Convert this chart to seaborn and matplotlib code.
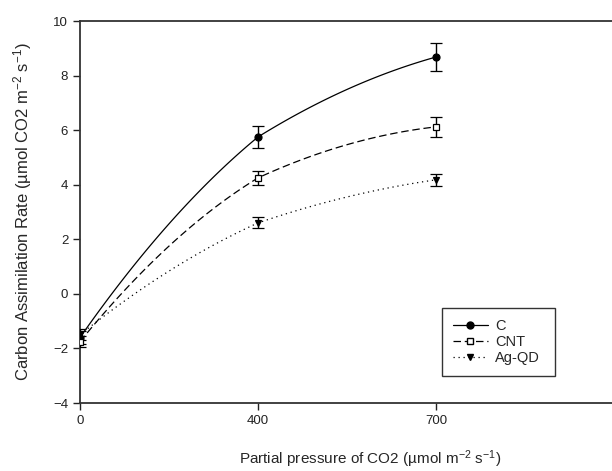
import numpy as np
import matplotlib
matplotlib.use("Agg")
import matplotlib.pyplot as plt
import seaborn as sns
from matplotlib.lines import Line2D

# CO2 partial pressures; the axis in the original is piecewise (0-400 and 400-700
# take the same width), so a piecewise-linear scale is used below
pressures = [0, 400, 700]

c_mean = [-1.6, 5.75, 8.68]
c_err = [0.25, 0.42, 0.53]
cnt_mean = [-1.75, 4.25, 6.12]
cnt_err = [0.2, 0.27, 0.37]
agqd_mean = [-1.5, 2.6, 4.18]
agqd_err = [0.2, 0.2, 0.23]

series = [
    ("C", c_mean, c_err, "o", "black", "-"),
    ("CNT", cnt_mean, cnt_err, "s", "white", (0, (6, 3))),
    ("Ag-QD", agqd_mean, agqd_err, "v", "black", (0, (1, 3))),
]


def fwd(x):
    x = np.asarray(x, dtype=float)
    return np.where(x <= 400, x / 400.0, 1 + (x - 400) / 300.0)


def inv(t):
    t = np.asarray(t, dtype=float)
    return np.where(t <= 1, t * 400.0, 400 + (t - 1) * 300.0)


sns.set_style("ticks")
plt.rcParams["font.family"] = ["Liberation Sans", "DejaVu Sans"]
plt.rcParams["mathtext.fontset"] = "custom"
plt.rcParams["mathtext.rm"] = "Liberation Sans"
plt.rcParams["mathtext.it"] = "Liberation Sans"
plt.rcParams["mathtext.default"] = "regular"

fig = plt.figure(figsize=(6.12, 4.71), dpi=100)
ax = fig.add_axes([80 / 612, 68 / 471, 534 / 612, 382 / 471])
ax.set_xscale("function", functions=(fwd, inv))

x = np.array(pressures, dtype=float)
handles = []
for label, mean, err, marker, face, ls in series:
    sns.regplot(x=x, y=np.array(mean), order=2, ci=None, scatter=False, ax=ax,
                line_kws=dict(color="black", lw=0.9, linestyle=ls))
    ax.errorbar(x, mean, yerr=err, fmt=marker, ms=5, mfc=face, mec="black",
                mew=0.9, ecolor="black", elinewidth=1.0, capsize=4.5, capthick=1.0,
                zorder=5)
    handles.append(Line2D([], [], color="black", lw=0.9, linestyle=ls, marker=marker,
                          ms=5, mfc=face, mec="black", label=label))

ax.set_xlim(0, 1000)
ax.set_ylim(-4, 10)
ax.set_xticks(pressures)
ax.set_xticklabels([str(p) for p in pressures])
ax.xaxis.set_minor_locator(matplotlib.ticker.NullLocator())
ax.set_yticks(np.arange(-4, 11, 2))
ax.tick_params(direction="out", length=5, width=1, labelsize=9.5, colors="#222222")
for side in ["left", "bottom", "top"]:
    ax.spines[side].set_linewidth(1.3)
    ax.spines[side].set_color("#333333")
ax.spines["right"].set_visible(False)

ax.set_xlabel("Partial pressure of CO2 (µmol m$^{-2}$ s$^{-1}$)", fontsize=11)
ax.xaxis.set_label_coords(0.543, -0.12)
ax.set_ylabel("Carbon Assimilation Rate (µmol CO2 m$^{-2}$ s$^{-1}$)", fontsize=12, labelpad=14)

leg = ax.legend(handles=handles, loc="upper left", bbox_to_anchor=(0.678, 0.055, 0.2116, 0.194),
                mode="expand", borderaxespad=0, fontsize=10.5, frameon=True, fancybox=False,
                handlelength=2.4, handletextpad=0.5, labelspacing=0.15, borderpad=0.75,
                edgecolor="black")
leg.get_frame().set_linewidth(1.0)

fig.savefig("out.png", dpi=100)
